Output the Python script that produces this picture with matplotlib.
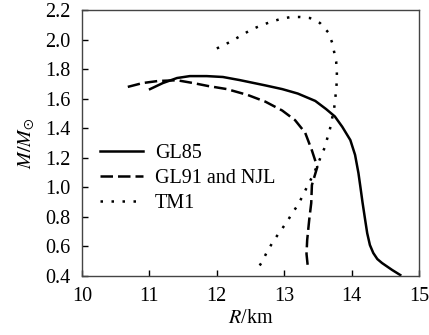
import matplotlib
matplotlib.use('Agg')
import matplotlib.pyplot as plt

plt.rcParams['font.family'] = ['Liberation Serif', 'DejaVu Serif']
plt.rcParams['mathtext.fontset'] = 'stix'
plt.rcParams['font.size'] = 14.5

# GL85 (solid)
gl85_r = [11.01, 11.2, 11.41, 11.6, 11.85, 12.09, 12.34, 12.72, 12.97, 13.2, 13.46,
          13.62, 13.75, 13.86, 13.98, 14.05, 14.1, 14.13, 14.16, 14.2, 14.23, 14.27,
          14.32, 14.38, 14.45, 14.6, 14.72]
gl85_m = [1.665, 1.706, 1.74, 1.753, 1.753, 1.747, 1.726, 1.69, 1.665, 1.635, 1.585,
          1.53, 1.48, 1.41, 1.32, 1.22, 1.097, 1.0, 0.9, 0.779, 0.69, 0.61,
          0.556, 0.515, 0.488, 0.441, 0.407]

# GL91 and NJL (dashed)
gl91_r = [10.68, 10.9, 11.13, 11.41, 11.65, 11.87, 12.15, 12.46, 12.72, 12.97, 13.16,
          13.31, 13.41, 13.49, 13.41, 13.4, 13.37, 13.34, 13.33, 13.35]
gl91_m = [1.68, 1.706, 1.72, 1.725, 1.706, 1.686, 1.665, 1.625, 1.58, 1.52, 1.455,
          1.37, 1.25, 1.138, 1.016, 0.894, 0.78, 0.644, 0.55, 0.46]

# TM1 (dotted)
tm1_r = [12.0, 12.2, 12.37, 12.52, 12.67, 12.8, 12.95, 13.1, 13.23, 13.38, 13.53,
         13.65, 13.71, 13.74, 13.77, 13.78, 13.78, 13.77, 13.74, 13.68, 13.6, 13.49,
         13.43, 13.35, 13.28, 13.2, 13.12, 13.03, 12.92, 12.83, 12.74, 12.67, 12.57]
tm1_m = [1.94, 1.985, 2.03, 2.07, 2.098, 2.12, 2.14, 2.153, 2.153, 2.146, 2.112,
         2.05, 1.98, 1.916, 1.85, 1.79, 1.726, 1.66, 1.535, 1.40, 1.27, 1.15,
         1.084, 1.016, 0.948, 0.88, 0.826, 0.76, 0.69, 0.63, 0.56, 0.495, 0.427]

fig = plt.figure(figsize=(4.29, 3.35), dpi=100)
ax = fig.add_axes([0.191, 0.176, 0.786, 0.794])

ax.plot(gl85_r, gl85_m, color='black', lw=1.8, ls='-', label='GL85')
ax.plot(gl91_r, gl91_m, color='black', lw=1.8, ls=(0, (5, 2)), label='GL91 and NJL')
ax.plot(tm1_r, tm1_m, color='black', lw=1.8, ls=(0, (1, 3.4)), label='TM1')

ax.set_xlim(10, 15)
ax.set_ylim(0.4, 2.2)
ax.set_xticks([10, 11, 12, 13, 14, 15])
ax.set_yticks([0.4, 0.6, 0.8, 1.0, 1.2, 1.4, 1.6, 1.8, 2.0, 2.2])
ax.set_yticklabels(['0.4', '0.6', '0.8', '1.0', '1.2', '1.4', '1.6', '1.8', '2.0', '2.2'])
ax.tick_params(direction='in', length=4.5, width=1, pad=8, top=False, right=False)
for s in ax.spines.values():
    s.set_color('#444444')
    s.set_linewidth(1.0)

ax.set_xlabel(r'$R$/km', labelpad=2)
ax.set_ylabel(r'$M/M_{\odot}$', labelpad=6)

ax.legend(loc='center left', bbox_to_anchor=(0.053, 0.368), frameon=False,
          borderpad=0, borderaxespad=0, handlelength=2.14, handletextpad=0.6,
          labelspacing=0.3)

fig.savefig('out.png', dpi=100)
